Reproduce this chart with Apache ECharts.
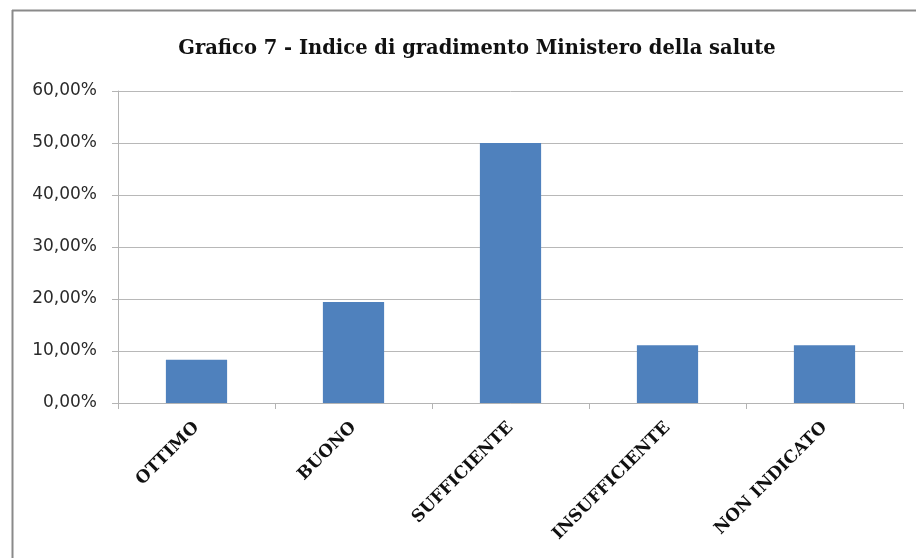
<!DOCTYPE html>
<html lang="it">
<head>
    <meta charset="UTF-8" />
    <title>Grafico 7</title>
    <style>
        html, body { margin: 0; padding: 0; background: #fff; }
        #container { width: 916px; height: 558px; }
    </style>
</head>
<body>
    <div id="container"></div>
    <script src="https://cdn.jsdelivr.net/npm/echarts@6/dist/echarts.min.js"></script>
    <script type="text/javascript">
        // dati
        var categorie = ['OTTIMO', 'BUONO', 'SUFFICIENTE', 'INSUFFICIENTE', 'NON INDICATO'];
        var valori = [0.0833, 0.1944, 0.5, 0.1111, 0.1111];
        var titolo = 'Grafico 7 - Indice di gradimento Ministero della salute';

        var myChart = echarts.init(document.getElementById('container'));
        var option = {
            animation: false,
            title: {
                text: titolo,
                left: 472,
                textAlign: 'center',
                top: 34,
                textStyle: {
                    fontFamily: 'DejaVu Serif',
                    fontWeight: 'bold',
                    fontSize: 19.5,
                    color: '#111'
                }
            },
            graphic: [
                { type: 'line', shape: { x1: 12, y1: 10.5, x2: 916, y2: 10.5 }, style: { stroke: '#8a8a8a', lineWidth: 2 } },
                { type: 'line', shape: { x1: 12.5, y1: 10, x2: 12.5, y2: 558 }, style: { stroke: '#8a8a8a', lineWidth: 2 } }
            ],
            grid: {
                left: 118,
                right: 13,
                top: 91,
                bottom: 155
            },
            xAxis: {
                type: 'category',
                data: categorie,
                axisLine: { lineStyle: { color: '#b4b4b4' } },
                axisTick: { show: true, length: 6, lineStyle: { color: '#b4b4b4' } },
                axisLabel: {
                    rotate: 45,
                    margin: 22,
                    fontFamily: 'DejaVu Serif',
                    fontWeight: 'bold',
                    fontSize: 17,
                    color: '#111'
                }
            },
            yAxis: {
                type: 'value',
                min: 0,
                max: 0.6,
                interval: 0.1,
                axisLine: { show: true, lineStyle: { color: '#b4b4b4' } },
                axisTick: { show: true, length: 6, lineStyle: { color: '#b4b4b4' } },
                splitLine: { lineStyle: { color: '#b8b8b8' } },
                axisLabel: {
                    margin: 21,
                    fontFamily: 'DejaVu Sans',
                    fontSize: 17,
                    color: '#2a2a2a',
                    formatter: function (v) {
                        return (v * 100).toFixed(2).replace('.', ',') + '%';
                    }
                }
            },
            series: [{
                type: 'bar',
                data: valori,
                barWidth: '39%',
                itemStyle: { color: '#4f81bd' }
            }]
        };
        myChart.setOption(option);
    </script>
</body>
</html>
